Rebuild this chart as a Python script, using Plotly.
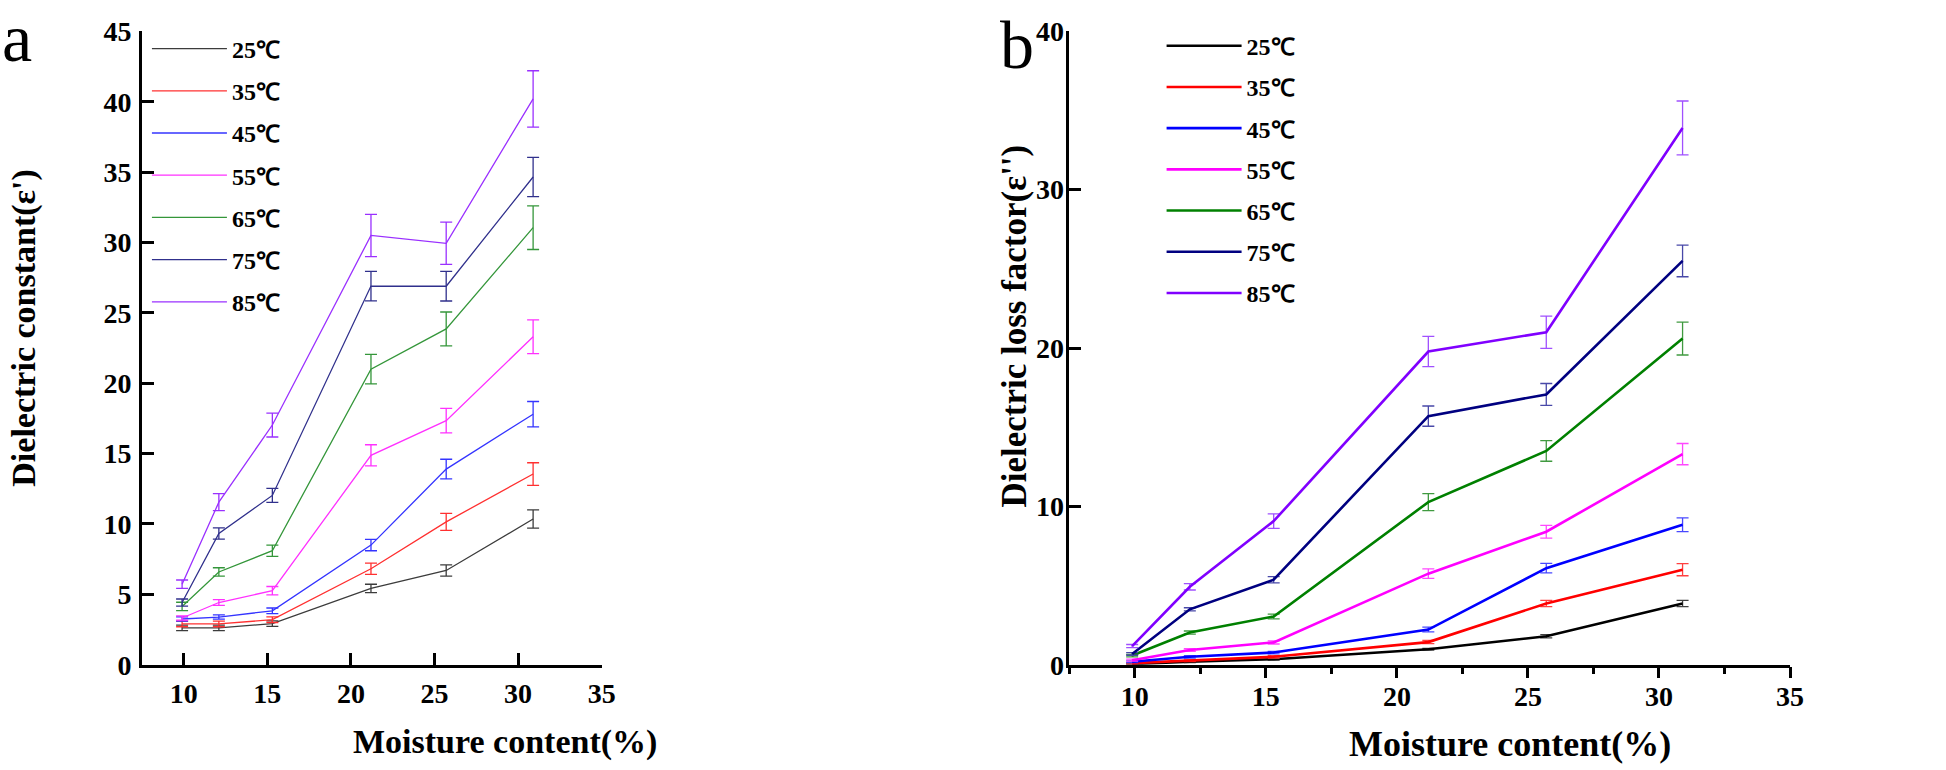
import plotly.graph_objects as go

W, H = 1946, 770

# ---------------- data ----------------
moisture = [9.9, 12.1, 15.3, 21.2, 25.7, 30.9]
temps = ["25℃", "35℃", "45℃", "55℃", "65℃", "75℃", "85℃"]

# Dielectric constant (epsilon')
ec_25 = [2.62, 2.62, 2.92, 5.42, 6.70, 10.35]
ec_35 = [2.90, 2.90, 3.20, 6.82, 10.15, 13.55]
ec_45 = [3.25, 3.39, 3.83, 8.50, 13.90, 17.80]
ec_55 = [3.32, 4.42, 5.26, 14.88, 17.34, 23.30]
ec_65 = [4.14, 6.59, 8.10, 21.00, 23.86, 31.05]
ec_75 = [4.42, 9.32, 12.03, 26.90, 26.89, 34.65]
ec_85 = [5.72, 11.55, 17.03, 30.50, 29.94, 40.20]
ec_25_err = [0.20, 0.20, 0.20, 0.30, 0.40, 0.65]
ec_35_err = [0.20, 0.20, 0.20, 0.40, 0.60, 0.80]
ec_45_err = [0.15, 0.15, 0.20, 0.40, 0.70, 0.90]
ec_55_err = [0.15, 0.20, 0.30, 0.75, 0.87, 1.20]
ec_65_err = [0.30, 0.30, 0.40, 1.05, 1.20, 1.55]
ec_75_err = [0.25, 0.40, 0.50, 1.05, 1.05, 1.40]
ec_85_err = [0.30, 0.60, 0.85, 1.50, 1.50, 2.00]

# Dielectric loss factor (epsilon'')
lf_25 = [0.04, 0.19, 0.35, 0.98, 1.80, 3.87]
lf_35 = [0.10, 0.25, 0.50, 1.43, 3.87, 6.00]
lf_45 = [0.19, 0.50, 0.77, 2.22, 6.10, 8.84]
lf_55 = [0.29, 0.93, 1.41, 5.75, 8.40, 13.30]
lf_65 = [0.58, 2.03, 3.05, 10.27, 13.50, 20.60]
lf_75 = [0.68, 3.50, 5.37, 15.70, 17.07, 25.50]
lf_85 = [1.18, 4.92, 9.07, 19.78, 21.00, 33.90]
lf_25_err = [0.03, 0.05, 0.05, 0.05, 0.10, 0.20]
lf_35_err = [0.05, 0.05, 0.08, 0.10, 0.20, 0.38]
lf_45_err = [0.05, 0.08, 0.08, 0.15, 0.30, 0.43]
lf_55_err = [0.06, 0.08, 0.10, 0.30, 0.40, 0.67]
lf_65_err = [0.08, 0.10, 0.15, 0.54, 0.65, 1.04]
lf_75_err = [0.08, 0.10, 0.20, 0.64, 0.69, 1.00]
lf_85_err = [0.10, 0.20, 0.46, 0.96, 1.02, 1.70]

ec_series = [ec_25, ec_35, ec_45, ec_55, ec_65, ec_75, ec_85]
ec_errors = [ec_25_err, ec_35_err, ec_45_err, ec_55_err, ec_65_err, ec_75_err, ec_85_err]
lf_series = [lf_25, lf_35, lf_45, lf_55, lf_65, lf_75, lf_85]
lf_errors = [lf_25_err, lf_35_err, lf_45_err, lf_55_err, lf_65_err, lf_75_err, lf_85_err]

# ---------------- styles ----------------
colors_a = ["#3c3c3c", "#ff3030", "#3434ff", "#ff30ff", "#34963a", "#30308c", "#9a30ff"]
colors_b = ["#000000", "#ff0000", "#0000ff", "#ff00ff", "#008000", "#000080", "#8000ff"]
err_b = ["#404040", "#ff4040", "#4848ff", "#ff48ff", "#409a40", "#4848a8", "#a050ff"]

SERIF = "Liberation Serif"


def px(x):
    return x / W


def py(y):
    return 1 - y / H


fig = go.Figure()

for i, name in enumerate(temps):
    fig.add_trace(go.Scatter(
        x=moisture, y=ec_series[i], name=name, mode="lines",
        line=dict(color=colors_a[i], width=1.3),
        error_y=dict(type="data", array=ec_errors[i], visible=True,
                     color=colors_a[i], thickness=1.3, width=6),
        xaxis="x", yaxis="y", legend="legend", legendgroup="a%d" % i,
    ))

for i, name in enumerate(temps):
    fig.add_trace(go.Scatter(
        x=moisture, y=lf_series[i], name=name, mode="lines",
        line=dict(color=colors_b[i], width=2.6),
        error_y=dict(type="data", array=lf_errors[i], visible=True,
                     color=err_b[i], thickness=1.3, width=6),
        xaxis="x2", yaxis="y2", legend="legend2", legendgroup="b%d" % i,
    ))

tickfont = dict(family=SERIF, size=28, color="black", weight="bold")

common_axis = dict(showline=True, linecolor="black", linewidth=2.5, showgrid=False,
                   zeroline=False, tickwidth=2.5, tickcolor="black", tickfont=tickfont,
                   fixedrange=True, ticklabeloverflow="allow")

Y0, Y1 = py(677), py(17)

fig.update_layout(
    width=W, height=H, autosize=False,
    margin=dict(l=0, r=0, t=0, b=0),
    paper_bgcolor="white", plot_bgcolor="white",
    showlegend=True,
    xaxis=dict(common_axis, domain=[px(143), px(606)], range=[7.5, 35], dtick=5, tick0=0,
               ticks="inside", ticklen=12, anchor="y", ticklabelstandoff=2),
    yaxis=dict(common_axis, domain=[Y0, Y1], range=[0, 45], dtick=5, tick0=0,
               ticks="inside", ticklen=12, anchor="x", ticklabelstandoff=2),
    xaxis2=dict(common_axis, domain=[px(1077), px(1803)], range=[7.5, 35], dtick=5, tick0=0,
                ticks="outside", ticklen=11, anchor="y2", ticklabelstandoff=-6,
                minor=dict(ticks="outside", dtick=2.5, tick0=0, ticklen=7, tickwidth=2.5,
                           tickcolor="black")),
    yaxis2=dict(common_axis, domain=[Y0, Y1], range=[0, 40], dtick=10, tick0=0,
                ticks="inside", ticklen=12, anchor="x2", ticklabelstandoff=-3),
    legend=dict(x=px(148), y=py(12), xanchor="left", yanchor="top",
                bgcolor="rgba(0,0,0,0)", borderwidth=0, itemwidth=75,
                tracegroupgap=8,
                font=dict(family=SERIF, size=24, color="black", weight="bold")),
    legend2=dict(x=px(1170), y=py(9), xanchor="left", yanchor="top",
                 bgcolor="rgba(0,0,0,0)", borderwidth=0, itemwidth=75,
                 tracegroupgap=7,
                 font=dict(family=SERIF, size=24, color="black", weight="bold")),
)

annots = [
    dict(text="a", x=px(17), y=py(24), font=dict(family=SERIF, size=68, color="black")),
    dict(text="b", x=px(1024), y=py(31), font=dict(family=SERIF, size=68, color="black")),
    dict(text="Dielectric constant(ε')", x=px(24), y=py(326), textangle=-90,
         font=dict(family=SERIF, size=34, color="black", weight="bold")),
    dict(text="Dielectric loss factor(ε'')", x=px(1022), y=py(324), textangle=-90,
         font=dict(family=SERIF, size=35, color="black", weight="bold")),
    dict(text="Moisture content(%)", x=px(509), y=py(758),
         font=dict(family=SERIF, size=34, color="black", weight="bold")),
    dict(text="Moisture content(%)", x=px(1521), y=py(760),
         font=dict(family=SERIF, size=36, color="black", weight="bold")),
]
for a in annots:
    fig.add_annotation(xref="paper", yref="paper", showarrow=False,
                       xanchor="center", yanchor="middle", **a)

fig.write_html("out.html", include_plotlyjs=True, full_html=True,
               config={"displayModeBar": False},
               post_script="document.body.style.margin='0';document.body.style.overflow='hidden';")
